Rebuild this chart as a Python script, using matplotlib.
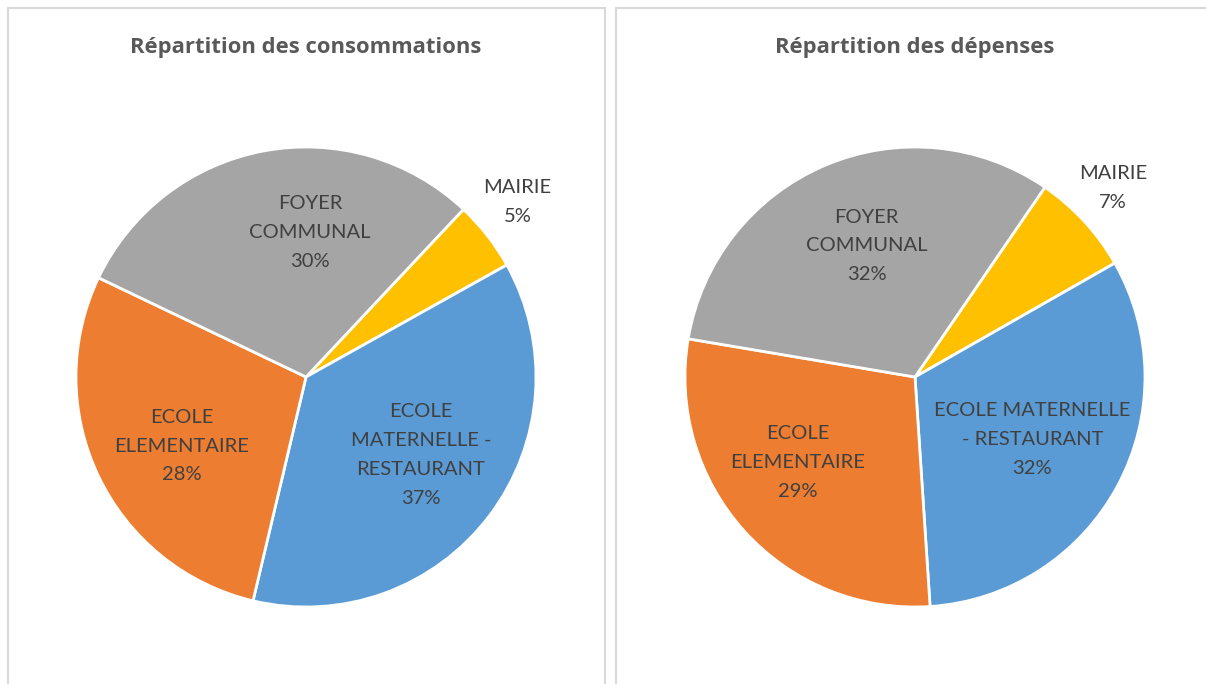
import matplotlib.pyplot as plt
from matplotlib.patches import Rectangle

plt.rcParams['font.family'] = ['Lato', 'DejaVu Sans']

# donnees
categories = ["MAIRIE", "ECOLE MATERNELLE - RESTAURANT", "ECOLE ELEMENTAIRE", "FOYER COMMUNAL"]
conso = [4.9, 36.8, 28.4, 29.9]
depenses = [7.2, 32.2, 28.7, 31.9]
conso_labels = ["MAIRIE\n5%", "ECOLE\nMATERNELLE -\nRESTAURANT\n37%", "ECOLE\nELEMENTAIRE\n28%", "FOYER\nCOMMUNAL\n30%"]
dep_labels = ["MAIRIE\n7%", "ECOLE MATERNELLE\n- RESTAURANT\n32%", "ECOLE\nELEMENTAIRE\n29%", "FOYER\nCOMMUNAL\n32%"]
colors = ["#FFC000", "#5B9BD5", "#ED7D31", "#A5A5A5"]

# position des etiquettes (rayon = 1)
conso_pos = [(0.92, 0.76), (0.50, -0.34), (-0.54, -0.30), (0.017, 0.63)]
dep_pos = [(0.86, 0.82), (0.51, -0.27), (-0.51, -0.37), (-0.21, 0.57)]

W, H = 1206, 684
fig = plt.figure(figsize=(W / 100, H / 100), dpi=100)

# cadres
for x0, x1 in [(8, 605), (616, 1212)]:
    fig.patches.append(Rectangle((x0 / W, -0.05), (x1 - x0) / W, 1.05 - 8 / H,
                                 transform=fig.transFigure, fill=False,
                                 edgecolor="#D9D9D9", linewidth=1.5))

def draw(cx, cy, vals, labels, pos, start, title):
    half = 300
    ax = fig.add_axes([(cx - half) / W, (H - cy - half) / H, 2 * half / W, 2 * half / H])
    ax.pie(vals, colors=colors, startangle=start, counterclock=False, radius=1,
           wedgeprops=dict(edgecolor="white", linewidth=2))
    for lab, (x, y) in zip(labels, pos):
        ax.text(x, y, lab, ha="center", va="center", fontsize=14.5, color="#404040",
                linespacing=1.85)
    lim = half / 230
    ax.set_xlim(-lim, lim)
    ax.set_ylim(-lim, lim)
    ax.set_aspect("equal")
    ax.axis("off")
    fig.text(cx / W, 1 - 47 / H, title, ha="center", va="center", fontsize=15.8,
             fontweight="bold", color="#595959", family=["Open Sans", "DejaVu Sans"])

draw(306, 377, conso, conso_labels, conso_pos, 46.8, "Répartition des consommations")
draw(915, 377, depenses, dep_labels, dep_pos, 55.6, "Répartition des dépenses")

fig.savefig("out.png", dpi=100)
